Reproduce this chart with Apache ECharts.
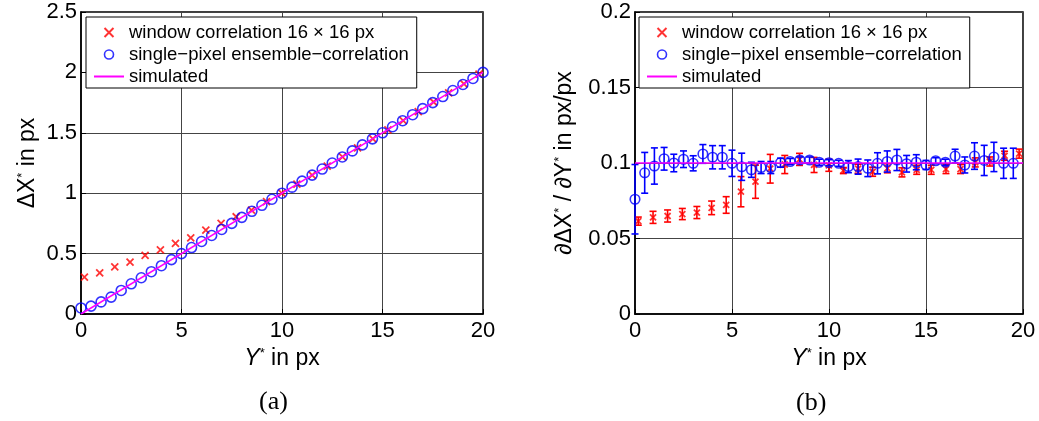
<!DOCTYPE html>
<html>
<head>
<meta charset="utf-8">
<script src="https://cdn.jsdelivr.net/npm/echarts@6/dist/echarts.min.js"></script>
<style>
* { margin: 0; padding: 0; }
body { background: #fff; }
#chart { width: 1039px; height: 421px; }
</style>
</head>
<body>
<div id="chart"></div>
<script>
// ---- data (a): displacement ----
const xBlue = [0, 0.5, 1, 1.5, 2, 2.5, 3, 3.5, 4, 4.5, 5, 5.5, 6, 6.5, 7, 7.5, 8, 8.5, 9, 9.5,
  10, 10.5, 11, 11.5, 12, 12.5, 13, 13.5, 14, 14.5, 15, 15.5, 16, 16.5, 17, 17.5, 18, 18.5, 19, 19.5, 20];
const dxBlue = [0.05, 0.065, 0.1, 0.14, 0.195, 0.25, 0.3, 0.35, 0.4, 0.45, 0.5, 0.55, 0.6, 0.65, 0.7, 0.75, 0.8, 0.85, 0.9, 0.95,
  1.0, 1.05, 1.1, 1.15, 1.2, 1.25, 1.3, 1.35, 1.4, 1.45, 1.5, 1.55, 1.6, 1.65, 1.7, 1.75, 1.8, 1.85, 1.9, 1.95, 2.0];
const xRed = [0.17, 0.93, 1.68, 2.44, 3.19, 3.95, 4.70, 5.46, 6.21, 6.97, 7.72, 8.48, 9.23, 9.99,
  10.74, 11.50, 12.25, 13.01, 13.76, 14.52, 15.27, 16.03, 16.78, 17.54, 18.29, 19.05, 19.80];
const dxRed = [0.306, 0.34, 0.39, 0.43, 0.485, 0.53, 0.585, 0.63, 0.695, 0.75, 0.805, 0.86, 0.93, 1.0,
  1.075, 1.15, 1.225, 1.30, 1.375, 1.45, 1.525, 1.60, 1.675, 1.755, 1.83, 1.905, 1.985];
const simX = [0, 20];
const simDx = [0, 2];

// ---- data (b): gradient ----
const xBlueG = [0, 0.5, 1, 1.5, 2, 2.5, 3, 3.5, 4, 4.5, 5, 5.5, 6, 6.5, 7, 7.5, 8, 8.5, 9, 9.5,
  10, 10.5, 11, 11.5, 12, 12.5, 13, 13.5, 14, 14.5, 15, 15.5, 16, 16.5, 17, 17.5, 18, 18.5, 19, 19.5];
const gBlue = [0.076, 0.0935, 0.098, 0.1028, 0.1, 0.1025, 0.0998, 0.106, 0.1038, 0.1038,
  0.0998, 0.0975, 0.0955, 0.097, 0.097, 0.1002, 0.101, 0.102, 0.102, 0.1005,
  0.1002, 0.0998, 0.0976, 0.0976, 0.0965, 0.0998, 0.101, 0.102, 0.0995, 0.1005,
  0.0987, 0.1015, 0.1005, 0.1046, 0.0987, 0.1046, 0.1017, 0.104, 0.0998, 0.0998];
const eBlue = [0.023, 0.0135, 0.012, 0.0075, 0.0058, 0.0055, 0.005, 0.0062, 0.0077, 0.0077,
  0.0087, 0.009, 0.005, 0.004, 0.004, 0.003, 0.002, 0.002, 0.002, 0.002,
  0.002, 0.002, 0.004, 0.005, 0.0055, 0.007, 0.007, 0.007, 0.0055, 0.005,
  0.003, 0.002, 0.002, 0.0045, 0.0053, 0.0088, 0.01, 0.0097, 0.01, 0.01];
const gRed = [0.0615, 0.064, 0.0649, 0.0662, 0.0672, 0.0703, 0.0722, 0.081, 0.0876, 0.0962, 0.099, 0.1024, 0.0987, 0.0985,
  0.095, 0.0962, 0.0942, 0.0965, 0.0938, 0.0955, 0.0955, 0.096, 0.096, 0.1004, 0.101, 0.1048, 0.1062];
const eRed = [0.0027, 0.004, 0.004, 0.0037, 0.004, 0.0045, 0.0055, 0.01, 0.011, 0.0095, 0.006, 0.004, 0.005, 0.004,
  0.002, 0.003, 0.003, 0.003, 0.003, 0.003, 0.003, 0.003, 0.003, 0.003, 0.003, 0.003, 0.003];
const simG = [0.1, 0.1];

const names = ["window correlation 16 \u00d7 16 px", "single\u2212pixel ensemble\u2212correlation", "simulated"];

const FONT = "Liberation Sans, Arial, Helvetica, sans-serif";
const RED = "#ff0000";
const BLUE = "#0000ff";
const MAGENTA = "#ff00ff";
const NONE = "rgba(0,0,0,0)";
const crossPath = "path://M0,0L10,10M10,0L0,10";

const zip = (a, b) => a.map((v, i) => [v, b[i]]);
const bars = (x, v, e) => x.map((xi, i) => [xi, v[i] - e[i], v[i] + e[i]]);

// Fehlerbalken mit Kappen
function errorBar(params, api) {
  const x = api.value(0);
  const lo = api.coord([x, api.value(1)]);
  const hi = api.coord([x, api.value(2)]);
  const hw = 3.5;
  const style = { stroke: api.visual("color"), lineWidth: 1.6 };
  return {
    type: "group",
    children: [
      { type: "line", shape: { x1: lo[0], y1: lo[1], x2: hi[0], y2: hi[1] }, style },
      { type: "line", shape: { x1: lo[0] - hw, y1: lo[1], x2: lo[0] + hw, y2: lo[1] }, style },
      { type: "line", shape: { x1: hi[0] - hw, y1: hi[1], x2: hi[0] + hw, y2: hi[1] }, style },
    ],
  };
}

const myChart = echarts.init(document.querySelector("#chart"), null, {
  width: 1039,
  height: 421,
});

const supRich = {
  it: { fontSize: 23, fontStyle: "italic", fontFamily: FONT, color: "#000" },
  sup: { fontSize: 13, verticalAlign: "top", fontFamily: FONT, color: "#000" },
  n: { fontSize: 23, fontFamily: FONT, color: "#000" },
};

function xAxisOf(gridIndex) {
  return {
    gridIndex,
    type: "value",
    min: 0,
    max: 20,
    interval: 5,
    name: "{it|Y}{sup|*}{n| in px}",
    nameLocation: "middle",
    nameGap: 31,
    nameTextStyle: { rich: supRich },
    axisLine: { show: true, lineStyle: { color: "#000", width: 1.5 } },
    axisTick: { show: true, inside: true, length: 5, lineStyle: { color: "#000" } },
    axisLabel: { color: "#000", fontSize: 22, fontFamily: FONT, margin: 6 },
    splitLine: { show: true, lineStyle: { color: "#444", width: 1 } },
  };
}

function yAxisOf(gridIndex, max, interval, name, nameGap) {
  return {
    gridIndex,
    type: "value",
    min: 0,
    max,
    interval,
    name,
    nameLocation: "middle",
    nameGap,
    nameTextStyle: { rich: supRich },
    axisLine: { show: true, lineStyle: { color: "#000", width: 1.5 } },
    axisTick: { show: true, inside: true, length: 5, lineStyle: { color: "#000" } },
    axisLabel: { color: "#000", fontSize: 22, fontFamily: FONT, margin: 4 },
    splitLine: { show: true, lineStyle: { color: "#444", width: 1 } },
  };
}

// legend: kein Punkt auf der Linie
const legendData = [
  { name: names[0], itemStyle: { borderWidth: 2 } },
  { name: names[1], itemStyle: { borderWidth: 1.6 } },
  { name: names[2], itemStyle: { opacity: 0 } },
];

function legendAt(left) {
  return {
    left, top: 17, orient: "vertical", data: legendData,
    backgroundColor: "#fff", borderColor: "#000", borderWidth: 1, borderRadius: 0,
    padding: [6, 8, 2, 7], itemGap: 3, itemWidth: 30, itemHeight: 9,
    textStyle: { fontSize: 18.5, fontFamily: FONT, color: "#000" },
    selectedMode: false,
  };
}

const option = {
  animation: false,
  backgroundColor: "#fff",
  grid: [
    { left: 81, top: 12, width: 402, height: 302, show: true, borderColor: "#000", borderWidth: 1.5, outerBoundsMode: "none" },
    { left: 635, top: 12, width: 388, height: 302, show: true, borderColor: "#000", borderWidth: 1.5, outerBoundsMode: "none" },
  ],
  xAxis: [xAxisOf(0), xAxisOf(1)],
  yAxis: [
    yAxisOf(0, 2.5, 0.5, "{n|\u0394X}{sup|*}{n| in px}", 42),
    yAxisOf(1, 0.2, 0.05, "{n|\u2202\u0394X}{sup|*}{n| / \u2202Y}{sup|*}{n| in px/px}", 59),
  ],
  legend: [legendAt(86), legendAt(639)],
  graphic: [
    { type: "text", left: 259, top: 389, style: { text: "(a)", font: "26px 'Liberation Serif', 'DejaVu Serif', serif", fill: "#000" } },
    { type: "text", left: 796, top: 390, style: { text: "(b)", font: "26px 'Liberation Serif', 'DejaVu Serif', serif", fill: "#000" } },
  ],
  series: [
    // (a)
    {
      name: names[0], type: "scatter", xAxisIndex: 0, yAxisIndex: 0, clip: false, z: 3,
      symbol: crossPath, symbolSize: 7, data: zip(xRed, dxRed),
      itemStyle: { color: RED, borderColor: RED, borderWidth: 1.8 },
    },
    {
      name: names[1], type: "scatter", xAxisIndex: 0, yAxisIndex: 0, clip: false, z: 4,
      symbol: "circle", symbolSize: 10, data: zip(xBlue, dxBlue),
      itemStyle: { color: NONE, borderColor: BLUE, borderWidth: 1.6 },
    },
    {
      name: names[2], type: "line", xAxisIndex: 0, yAxisIndex: 0, z: 5,
      symbol: "none", data: zip(simX, simDx),
      lineStyle: { color: MAGENTA, width: 1.5 }, itemStyle: { color: MAGENTA },
    },
    // (b)
    {
      type: "custom", xAxisIndex: 1, yAxisIndex: 1, z: 2, clip: false,
      renderItem: errorBar, encode: { x: 0, y: [1, 2] },
      itemStyle: { color: RED }, data: bars(xRed, gRed, eRed),
    },
    {
      name: names[0], type: "scatter", xAxisIndex: 1, yAxisIndex: 1, clip: false, z: 3,
      symbol: crossPath, symbolSize: 6, data: zip(xRed, gRed),
      itemStyle: { color: RED, borderColor: RED, borderWidth: 1.8 },
    },
    {
      type: "custom", xAxisIndex: 1, yAxisIndex: 1, z: 4, clip: false,
      renderItem: errorBar, encode: { x: 0, y: [1, 2] },
      itemStyle: { color: BLUE }, data: bars(xBlueG, gBlue, eBlue),
    },
    {
      name: names[1], type: "scatter", xAxisIndex: 1, yAxisIndex: 1, clip: false, z: 4,
      symbol: "circle", symbolSize: 9.5, data: zip(xBlueG, gBlue),
      itemStyle: { color: NONE, borderColor: BLUE, borderWidth: 1.6 },
    },
    {
      name: names[2], type: "line", xAxisIndex: 1, yAxisIndex: 1, z: 5,
      symbol: "none", data: zip(simX, simG),
      lineStyle: { color: MAGENTA, width: 1.5 }, itemStyle: { color: MAGENTA },
    },
  ],
};

myChart.setOption(option);
</script>
</body>
</html>
